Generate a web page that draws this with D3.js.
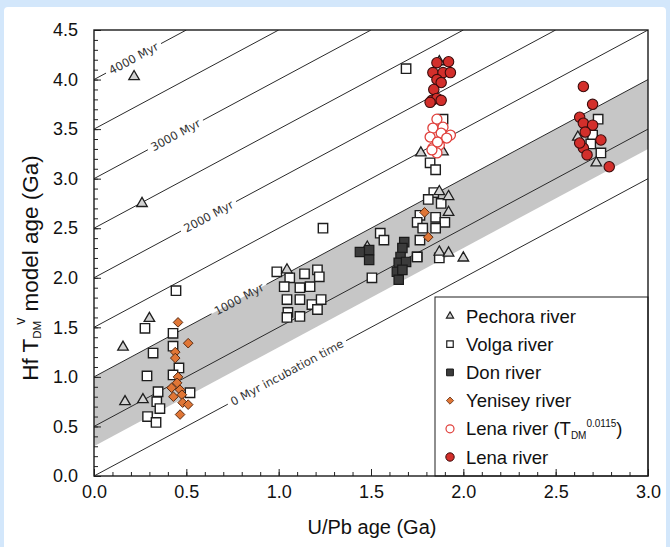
<!DOCTYPE html>
<html><head><meta charset="utf-8">
<script src="https://cdn.jsdelivr.net/npm/d3@7"></script>
<style>body{margin:0;background:#d3e7fb}svg{display:block}</style>
</head><body><svg id="c" width="670" height="547"></svg>
<script>
// ---------- data (U/Pb age Ga, Hf TDM model age Ga) ----------
const pechora = [[0.217,4.03],[0.26,2.75],[0.157,1.30],[0.30,1.59],[0.168,0.75],[0.265,0.77],
  [1.045,2.08],[1.48,2.31],[1.87,2.87],[1.92,2.82],[1.92,2.66],[1.87,2.26],[1.92,2.25],[2.00,2.20],
  [1.77,3.26],[1.89,3.27],[1.87,4.18],[2.62,3.42],[2.72,3.16]];
const volga = [[0.444,1.87],[0.276,1.49],[0.428,1.44],[0.428,1.31],[0.32,1.24],[0.46,1.09],[0.428,1.02],
  [0.287,1.01],[0.347,0.85],[0.52,0.84],[0.34,0.75],[0.357,0.68],[0.29,0.60],[0.336,0.54],
  [0.99,2.06],[1.06,2.00],[1.14,2.04],[1.21,2.08],[1.22,2.01],[1.115,1.90],[1.17,1.91],[1.03,1.91],
  [1.045,1.78],[1.115,1.78],[1.18,1.73],[1.23,1.78],[1.05,1.65],[1.115,1.61],[1.21,1.68],[1.24,2.50],[1.045,1.60],
  [1.55,2.45],[1.57,2.38],[1.505,2.00],[1.75,2.21],
  [1.82,3.16],[1.85,3.09],[1.84,2.86],[1.81,2.79],[1.88,2.75],[1.765,2.63],[1.85,2.61],[1.90,2.56],
  [1.75,2.56],[1.78,2.50],[1.85,2.50],[1.765,2.38],[1.75,2.21],[1.87,2.20],[1.69,4.11],[1.89,3.60],
  [2.73,3.60],[2.70,3.44],[2.69,3.35],[2.745,3.26]];
const don = [[1.44,2.26],[1.49,2.28],[1.49,2.18],[1.68,2.36],[1.67,2.30],[1.66,2.21],[1.65,2.15],
  [1.64,2.06],[1.65,1.98],[1.69,2.16],[1.67,2.08]];
const yenisey = [[0.455,1.55],[0.51,1.34],[0.44,1.25],[0.44,1.19],[0.455,1.00],[0.45,0.94],[0.42,0.89],
  [0.466,0.87],[0.43,0.80],[0.476,0.82],[0.48,0.74],[0.51,0.72],[0.466,0.62],[1.79,2.66],[1.81,2.41]];
const lenaOpen = [[1.857,3.60],[1.835,3.51],[1.89,3.52],[1.82,3.42],[1.88,3.46],[1.93,3.44],[1.91,3.41],
  [1.835,3.31],[1.87,3.34],[1.857,3.26],[1.83,3.29],[1.86,3.37]];
const lena = [[1.92,4.18],[1.857,4.17],[1.835,4.07],[1.89,4.07],[1.93,4.07],[1.857,4.00],[1.88,3.97],
  [1.84,3.90],[1.83,3.79],[1.857,3.81],[1.88,3.79],[1.82,3.77],
  [2.65,3.93],[2.70,3.75],[2.63,3.62],[2.65,3.56],[2.70,3.54],[2.66,3.47],[2.65,3.31],[2.67,3.24],
  [2.745,3.39],[2.79,3.12],[2.63,3.36]];
// reference lines: incubation offsets (Ga)
const incubation = [0,0.5,1,1.5,2,2.5,3,3.5,4];
const lineLabels = [["4000 Myr",4,0.214],["3000 Myr",3,0.441],["2000 Myr",2,0.62],["1000 Myr",1,0.785],["0 Myr incubation time",0,1.045]];
const band = [0.3, 1.0];
const xMajor = [0,0.5,1,1.5,2,2.5,3];
const yMajor = [0,0.5,1,1.5,2,2.5,3,3.5,4,4.5];
const legendNames = ["Pechora river","Volga river","Don river","Yenisey river","Lena river (T","Lena river"];

// ---------- drawing ----------
const svg = d3.select("#c");
svg.append("rect").attr("x",4).attr("y",7).attr("width",662).attr("height",545).attr("rx",4).attr("fill","#fff");
const x = d3.scaleLinear([0,3],[94,648]);
const y = d3.scaleLinear([0,4.5],[476,30]);
const FONT = "'Liberation Sans', Arial, sans-serif";

svg.append("clipPath").attr("id","pc").append("rect")
  .attr("x",94).attr("y",30).attr("width",554).attr("height",446);
const plot = svg.append("g").attr("clip-path","url(#pc)");

// gray band
const bx = [0,3];
const bandPts = bx.map(v=>[x(v),y(v+band[1])]).concat(bx.slice().reverse().map(v=>[x(v),y(v+band[0])]));
plot.append("path").attr("d","M"+bandPts.join("L")+"Z").attr("fill","#c6c6c6");

// lines
const pxSlope = (y(0)-y(1))/(x(1)-x(0));
const ang = Math.atan(pxSlope)*180/Math.PI;
const cosA = Math.cos(Math.atan(pxSlope));
const labelG = svg.append("g");
incubation.forEach(c=>{
  const x1 = Math.min(3, 4.5-c);
  let segs = [[0,x1]];
  const lab = lineLabels.find(l=>l[1]===c);
  if(lab){
    const t = labelG.append("text").text(lab[0])
      .attr("font-family","'DejaVu Sans', sans-serif").attr("font-size",11.5).attr("fill","#333")
      .attr("text-anchor","middle").attr("dy","0.36em")
      .attr("transform",`translate(${x(lab[2])},${y(lab[2]+c)}) rotate(${-ang})`);
    const L = t.node().getComputedTextLength();
    const hw = (L/2+4)*cosA/(x(1)-x(0));
    segs = [[0,lab[2]-hw],[lab[2]+hw,x1]];
  }
  segs.forEach(s=>{
    plot.append("line").attr("x1",x(s[0])).attr("y1",y(s[0]+c)).attr("x2",x(s[1])).attr("y2",y(s[1]+c))
      .attr("stroke","#2a2a2a").attr("stroke-width",1);
  });
});

// markers
const tri = d3.symbol().type(d3.symbolTriangle).size(48);
const sq = d3.symbol().type(d3.symbolSquare).size(88);
const diamond = s => `M0,${-s}L${s},0L0,${s}L${-s},0Z`;
function pts(data, fn){ return plot.append("g").selectAll("path").data(data).join("path")
  .attr("transform",d=>`translate(${x(d[0])},${y(d[1])})`).call(fn); }
pts(volga, s=>s.attr("d",sq()).attr("fill","#fff").attr("stroke","#1e1e1e").attr("stroke-width",1.4));
pts(pechora, s=>s.attr("d",tri()).attr("fill","#d2d2d2").attr("stroke","#1e1e1e").attr("stroke-width",1.3));
pts(don, s=>s.attr("d",sq()).attr("fill","#3b3b3b").attr("stroke","#1a1a1a").attr("stroke-width",1.2));
pts(yenisey, s=>s.attr("d",diamond(4.8)).attr("fill","#e07636").attr("stroke","#5a2a10").attr("stroke-width",1));
plot.append("g").selectAll("circle").data(lenaOpen).join("circle")
  .attr("cx",d=>x(d[0])).attr("cy",d=>y(d[1])).attr("r",5)
  .attr("fill","#fff").attr("stroke","#e0403c").attr("stroke-width",1.3);
plot.append("g").selectAll("circle").data(lena).join("circle")
  .attr("cx",d=>x(d[0])).attr("cy",d=>y(d[1])).attr("r",5.2)
  .attr("fill","#d32f2b").attr("stroke","#3c0c0c").attr("stroke-width",1.1);
labelG.raise();

// legend
const lg = svg.append("g");
lg.append("rect").attr("x",435).attr("y",297).attr("width",213).attr("height",179)
  .attr("fill","#fff").attr("stroke","#1e1e1e");
const rowY = i => 316 + i*28.2;
const lx = 450;
lg.append("path").attr("d",d3.symbol().type(d3.symbolTriangle).size(22)()).attr("transform",`translate(${lx},${rowY(0)})`)
  .attr("fill","#d2d2d2").attr("stroke","#1e1e1e").attr("stroke-width",1.2);
lg.append("path").attr("d",d3.symbol().type(d3.symbolSquare).size(42)()).attr("transform",`translate(${lx},${rowY(1)})`)
  .attr("fill","#fff").attr("stroke","#1e1e1e").attr("stroke-width",1.2);
lg.append("path").attr("d",d3.symbol().type(d3.symbolSquare).size(46)()).attr("transform",`translate(${lx},${rowY(2)})`)
  .attr("fill","#3b3b3b").attr("stroke","#1a1a1a").attr("stroke-width",1);
lg.append("path").attr("d",diamond(3.6)).attr("transform",`translate(${lx},${rowY(3)})`)
  .attr("fill","#e07636").attr("stroke","#5a2a10").attr("stroke-width",0.8);
lg.append("circle").attr("cx",lx).attr("cy",rowY(4)).attr("r",4).attr("fill","#fff").attr("stroke","#e0403c").attr("stroke-width",1.2);
lg.append("circle").attr("cx",lx).attr("cy",rowY(5)).attr("r",4.2).attr("fill","#d32f2b").attr("stroke","#3c0c0c").attr("stroke-width",1);
legendNames.forEach((n,i)=>{
  const t = lg.append("text").attr("x",466).attr("y",rowY(i)).attr("dy","0.36em")
    .attr("font-family",FONT).attr("font-size",18.5).attr("fill","#111").text(n);
  if(i===4){
    t.append("tspan").attr("font-size",10).attr("dy","3.5").text("DM");
    t.append("tspan").attr("font-size",10).attr("dy","-12").text("0.0115");
    t.append("tspan").attr("dy","8.5").text(")");
  }
});

// axes (inward ticks)
const ax = svg.append("g").attr("font-family",FONT);
const xMinor = d3.range(0,3.001,0.1);
const yMinor = d3.range(0,4.501,0.1);
ax.append("g").attr("transform","translate(0,476)")
  .call(d3.axisBottom(x).tickValues(xMinor).tickSize(-4).tickFormat(""));
ax.append("g").attr("transform","translate(0,476)")
  .call(d3.axisBottom(x).tickValues(xMajor).tickSize(-7).tickPadding(9).tickFormat(d3.format(".1f")));
ax.append("g").attr("transform","translate(94,0)")
  .call(d3.axisLeft(y).tickValues(yMinor).tickSize(-4).tickFormat(""));
ax.append("g").attr("transform","translate(94,0)")
  .call(d3.axisLeft(y).tickValues(yMajor).tickSize(-7).tickPadding(16).tickFormat(d3.format(".1f")));
ax.selectAll(".domain").remove();
ax.selectAll("line").attr("stroke","#222");
ax.selectAll("text").attr("font-size",18).attr("fill","#111").attr("font-family",FONT);
svg.append("rect").attr("x",94).attr("y",30).attr("width",554).attr("height",446)
  .attr("fill","none").attr("stroke","#1a1a1a").attr("stroke-width",1.4);

// axis titles
svg.append("text").attr("x",372).attr("y",534).attr("text-anchor","middle")
  .attr("font-family",FONT).attr("font-size",20).attr("fill","#111").text("U/Pb age (Ga)");
const yt = svg.append("text").attr("transform","translate(38,268) rotate(-90)").attr("text-anchor","middle")
  .attr("font-family",FONT).attr("font-size",22.5).attr("fill","#111");
yt.append("tspan").text("Hf T");
yt.append("tspan").attr("font-size",11.5).attr("dy","3").text("DM");
yt.append("tspan").attr("font-size",14).attr("dy","-16").attr("dx","-4").text("v");
yt.append("tspan").attr("dy","13").text(" model age (Ga)");
</script></body></html>
